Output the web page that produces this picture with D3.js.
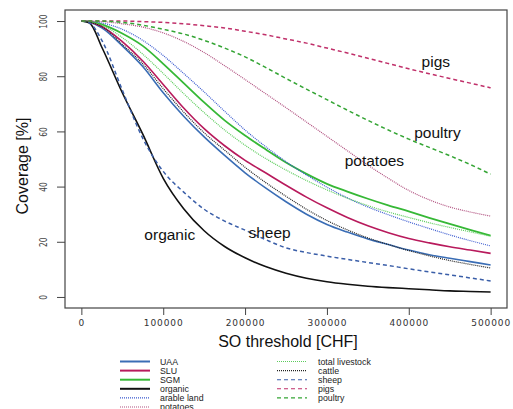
<!DOCTYPE html>
<html>
<head>
<meta charset="utf-8">
<script src="https://cdn.jsdelivr.net/npm/d3@7"></script>
<style>
  body { margin: 0; background: #fff; }
  svg { display: block; }
  text { font-family: "Liberation Sans", Arial, sans-serif; }
</style>
</head>
<body>
<svg id="chart" width="513" height="409"></svg>
<script>
// ---- data ----
const thresholds = [0, 10000, 25000, 50000, 75000, 100000, 125000, 150000, 175000, 200000, 225000, 250000,
  275000, 300000, 325000, 350000, 375000, 400000, 425000, 450000, 475000, 500000];

const uaa       = [100, 99.6, 97.5, 91, 83.5, 74, 65.5, 58, 51.3, 45, 39.5, 34.5, 30, 26.3, 23.5, 21, 19, 17, 15.3, 14, 12.8, 11.6];
const slu       = [100, 99.7, 98, 92.5, 85.5, 77, 68.5, 61, 54.8, 49.5, 45, 40.5, 36.2, 32.3, 28.8, 25.8, 23.3, 21.2, 19.6, 18.2, 17, 15.8];
const sgm       = [100, 99.8, 98.8, 95.5, 91, 84.5, 77.5, 70.5, 64, 58.5, 53.5, 48.7, 44.6, 41, 38.2, 35.6, 33.2, 31, 28.7, 26.5, 24.3, 22.2];
const organic   = [100, 99.3, 90.5, 74, 59, 43, 32, 24, 18.3, 14.2, 11, 8.6, 6.8, 5.5, 4.6, 3.9, 3.4, 3, 2.6, 2.2, 2, 1.8];
const arable    = [100, 99.9, 99.3, 97, 93, 87.5, 81, 74.3, 67.3, 60.5, 54.5, 49, 44.2, 39.8, 35.9, 32.6, 29.8, 27.2, 24.8, 22.5, 20.4, 18.5];
const potatoes  = [100, 100, 99.8, 99, 97.8, 95.7, 92.6, 88.6, 83.8, 78.8, 73.7, 68.6, 63.4, 58.2, 53, 47.8, 43, 38.6, 35.2, 32.6, 30.8, 29.3];
const livestock = [100, 99.8, 98.5, 94, 88, 81, 73.7, 66.8, 60.5, 55, 50.2, 46, 42.2, 38.8, 35.8, 33.1, 30.8, 28.8, 26.9, 25.2, 23.6, 22];
const cattle    = [100, 99.6, 98, 91.5, 84.5, 75.5, 67, 59.5, 53.2, 47, 41.5, 36.5, 31.8, 27.7, 24.3, 21.4, 19, 16.8, 14.9, 13.2, 11.8, 10.5];
const sheep     = [100, 99.3, 93, 75, 57.5, 45.5, 38, 31.8, 27.5, 24.2, 20.8, 17.8, 16.1, 14.8, 13.6, 12.5, 11.4, 10.2, 9.1, 8, 6.9, 5.8];
const pigs      = [100, 100, 100, 100, 99.8, 99.5, 99, 98.3, 97.5, 96.3, 95, 93.5, 92, 90.2, 88.4, 86.5, 84.6, 82.7, 80.9, 79.2, 77.5, 75.8];
const poultry   = [100, 100, 100, 99.5, 98.5, 97, 95.3, 93, 90.2, 87, 83.2, 79.2, 75.3, 71.5, 67.7, 64, 60.5, 57.2, 54.2, 51.2, 48, 44.5];

const seriesNames = ["UAA", "SLU", "SGM", "organic", "arable land", "potatoes",
  "total livestock", "cattle", "sheep", "pigs", "poultry"];
const seriesValues = [uaa, slu, sgm, organic, arable, potatoes, livestock, cattle, sheep, pigs, poultry];

const xTicks = [0, 100000, 200000, 300000, 400000, 500000];
const yTicks = [0, 20, 40, 60, 80, 100];

const curveLabels = ["pigs", "poultry", "potatoes", "sheep", "organic"];
const curveLabelX = [433000, 435000, 358000, 230000, 108000];
const curveLabelY = [85, 59, 49, 23, 22];

// ---- styles ----
const styles = {
  "UAA":             {color: "#3a6db5", dash: null,  w: 1.6},
  "SLU":             {color: "#b81a5c", dash: null,  w: 1.6},
  "SGM":             {color: "#36b836", dash: null,  w: 1.8},
  "organic":         {color: "#111111", dash: null,  w: 1.6},
  "arable land":     {color: "#3a5ad0", dash: "1,1", w: 1.2},
  "potatoes":        {color: "#b0507f", dash: "1,1", w: 1.2},
  "total livestock": {color: "#5ccc5c", dash: "1,1", w: 1.2},
  "cattle":          {color: "#222222", dash: "1,1", w: 1.2},
  "sheep":           {color: "#3a5ea8", dash: "4,3", w: 1.5},
  "pigs":            {color: "#c0306a", dash: "4,3", w: 1.5},
  "poultry":         {color: "#35a535", dash: "4,3", w: 1.5}
};

const svg = d3.select("#chart");
const L = 65, T = 10, R = 507, B = 308;

const x = d3.scaleLinear().domain([-20000, 520000]).range([L, R]);
const y = d3.scaleLinear().domain([-4, 104]).range([B, T]);

// box
svg.append("rect").attr("x", L).attr("y", T).attr("width", R - L).attr("height", B - T)
  .attr("fill", "none").attr("stroke", "#444").attr("stroke-width", 1.2);

// x axis
const xAxis = svg.append("g").attr("transform", `translate(0,${B})`)
  .call(d3.axisBottom(x).tickValues(xTicks).tickSize(7).tickFormat(d3.format("d")));
xAxis.select(".domain").remove();
xAxis.selectAll("line").attr("stroke", "#444");
xAxis.selectAll("text").attr("fill", "#333").attr("dy", "0.9em")
  .style("font-family", "'DejaVu Sans', sans-serif").style("font-size", "9px")
  .style("letter-spacing", "0.9px");

// y axis
const yAxis = svg.append("g").attr("transform", `translate(${L},0)`)
  .call(d3.axisLeft(y).tickValues(yTicks).tickSize(8).tickFormat(d3.format("d")));
yAxis.select(".domain").remove();
yAxis.selectAll("line").attr("stroke", "#444");
yAxis.selectAll("text")
  .attr("x", null).attr("dy", null)
  .attr("text-anchor", "middle")
  .attr("transform", "translate(-18,0) rotate(-90) scale(1,1.3)")
  .attr("fill", "#444")
  .style("font-family", "'DejaVu Sans', sans-serif").style("font-size", "7.5px");

// axis titles
svg.append("text").attr("x", 288).attr("y", 347).attr("text-anchor", "middle")
  .style("font-size", "16px").attr("fill", "#111").text("SO threshold [CHF]");
svg.append("text").attr("transform", "translate(28,166) rotate(-90)").attr("text-anchor", "middle")
  .style("font-size", "16px").attr("fill", "#111").text("Coverage [%]");

// lines
const line = d3.line().x((d, i) => x(thresholds[i])).y(d => y(d)).curve(d3.curveMonotoneX);
const plotG = svg.append("g");
seriesNames.forEach((name, k) => {
  const s = styles[name];
  plotG.append("path").datum(seriesValues[k]).attr("d", line)
    .attr("fill", "none").attr("stroke", s.color).attr("stroke-width", s.w)
    .attr("stroke-dasharray", s.dash);
});

// curve labels
curveLabels.forEach((lab, i) => {
  svg.append("text").attr("x", x(curveLabelX[i])).attr("y", y(curveLabelY[i]))
    .attr("text-anchor", "middle").attr("dominant-baseline", "middle")
    .style("font-size", "15.5px").attr("fill", "#111").text(lab);
});

// legend
const legend = svg.append("g");
const rowY0 = 361.5, rowH = 9.1;
seriesNames.forEach((name, k) => {
  const col = k < 6 ? 0 : 1;
  const row = k < 6 ? k : k - 6;
  const lx = col === 0 ? 120 : 277;
  const tx = col === 0 ? 160 : 318;
  const ly = rowY0 + row * rowH;
  const s = styles[name];
  legend.append("line").attr("x1", lx).attr("x2", lx + 30).attr("y1", ly).attr("y2", ly)
    .attr("stroke", s.color).attr("stroke-width", s.dash ? 1.1 : 2)
    .attr("stroke-dasharray", s.dash === "4,3" ? "4,3" : s.dash);
  legend.append("text").attr("x", tx).attr("y", ly + 3)
    .style("font-size", "8.8px").attr("fill", "#222").text(name);
});
</script>
</body>
</html>
